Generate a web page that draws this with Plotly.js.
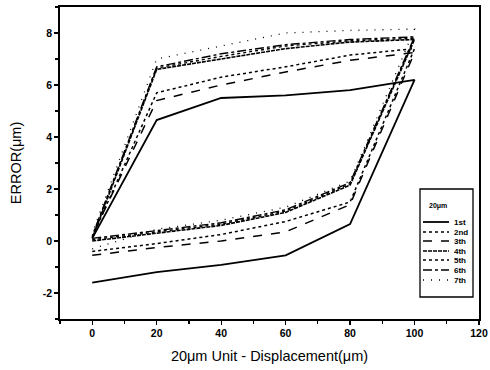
<!DOCTYPE html>
<html>
<head>
<meta charset="utf-8">
<script src="https://cdn.plot.ly/plotly-3.0.1.min.js"></script>
<style>html,body{margin:0;padding:0;background:#fff;}#chart{width:490px;height:370px;}</style>
</head>
<body>
<div id="chart"></div>
<script>
// Displacement points (μm)
const displacement = [0, 20, 40, 60, 80, 100];
const cycleNames = ["1st", "2nd", "3th", "4th", "5th", "6th", "7th"];
// Lower branch (loading, 0 -> 100) error values (μm)
const lower1 = [-1.6, -1.2, -0.92, -0.55, 0.65, 6.2];
const lower2 = [-0.4, -0.1, 0.25, 0.75, 1.5, 7.4];
const lower3 = [-0.55, -0.25, 0.0, 0.35, 1.4, 7.25];
const lower4 = [0.0, 0.3, 0.6, 1.1, 2.15, 7.75];
const lower5 = [0.05, 0.35, 0.65, 1.15, 2.2, 7.8];
const lower6 = [0.1, 0.4, 0.7, 1.2, 2.25, 7.85];
const lower7 = [-0.3, 0.45, 0.8, 1.3, 2.3, 8.15];
// Upper branch (unloading, read at the same displacement points)
const upper1 = [0.1, 4.65, 5.5, 5.6, 5.8, 6.2];
const upper2 = [0.15, 5.7, 6.3, 6.7, 7.15, 7.4];
const upper3 = [0.2, 5.4, 6.0, 6.5, 6.95, 7.25];
const upper4 = [0.1, 6.6, 7.0, 7.4, 7.65, 7.75];
const upper5 = [0.15, 6.65, 7.1, 7.5, 7.7, 7.8];
const upper6 = [0.2, 6.7, 7.2, 7.55, 7.75, 7.85];
const upper7 = [0.3, 7.0, 7.5, 8.0, 8.1, 8.15];
const xTickVals = [0, 20, 40, 60, 80, 100, 120];
const yTickVals = [-2, 0, 2, 4, 6, 8];

const lowers = [lower1, lower2, lower3, lower4, lower5, lower6, lower7];
const uppers = [upper1, upper2, upper3, upper4, upper5, upper6, upper7];
const dashes = ["solid", "dot", "dash", "4px,1px", "dot", "dashdot", "1px,7px"];
const widths = [1.8, 1.5, 1.5, 1.6, 1.4, 1.4, 1.3];

const traces = cycleNames.map((name, i) => {
  const xr = displacement.slice().reverse();
  const ur = uppers[i].slice().reverse();
  return {
    type: "scatter", mode: "lines", name: name,
    x: displacement.concat(xr.slice(1)),
    y: lowers[i].concat(ur.slice(1)),
    line: {color: "#000", width: widths[i], dash: dashes[i]},
    showlegend: false
  };
});

// Manual compact legend (pixel -> paper helpers)
const PL = 60, PW = 419, PT = 7, PH = 312;
const px = v => (v - PL) / PW;
const py = v => (PT + PH - v) / PH;
const FONT = "Liberation Sans, Arial, sans-serif";
const shapes = [{type: "rect", xref: "paper", yref: "paper", x0: px(420), x1: px(473), y0: py(297), y1: py(189),
  line: {color: "#000", width: 1.3}, fillcolor: "#fff"}];
const annotations = [{xref: "paper", yref: "paper", x: px(438), y: py(206), text: "20μm", showarrow: false,
  font: {family: FONT, size: 7, color: "#000000", weight: "bold"}, xanchor: "center", yanchor: "middle"}];
const rowY = [222, 232, 241, 251, 260, 270, 280];
cycleNames.forEach((name, i) => {
  shapes.push({type: "line", xref: "paper", yref: "paper", x0: px(423), x1: px(449), y0: py(rowY[i]), y1: py(rowY[i]),
    line: {color: "#000", width: widths[i], dash: dashes[i]}});
  annotations.push({xref: "paper", yref: "paper", x: px(452), y: py(rowY[i]), text: name, showarrow: false,
    font: {family: FONT, size: 8, color: "#000000", weight: "bold"}, xanchor: "left", yanchor: "middle"});
});

const layout = {
  width: 490, height: 370,
  margin: {l: PL, r: 490 - PL - PW, t: PT, b: 370 - PT - PH},
  paper_bgcolor: "#fff", plot_bgcolor: "#fff",
  showlegend: false,
  font: {family: FONT, color: "#000000"},
  xaxis: {
    range: [-10, 120], tickvals: xTickVals, ticktext: xTickVals.map(String),
    ticks: "outside", ticklen: 4, tickwidth: 1.2, tickcolor: "#000",
    minor: {dtick: 10, tick0: 0, ticks: "outside", ticklen: 3, tickcolor: "#000"},
    showline: true, linecolor: "#000", linewidth: 1.7, mirror: true,
    showgrid: false, zeroline: false,
    tickfont: {size: 10.5, weight: "bold", color: "#000000"},
    title: {text: "20μm Unit - Displacement(μm)", font: {size: 14.5, color: "#000000"}, standoff: 12}
  },
  yaxis: {
    range: [-3, 9], tickvals: yTickVals, ticktext: yTickVals.map(String),
    ticks: "outside", ticklen: 4, tickwidth: 1.2, tickcolor: "#000",
    minor: {dtick: 1, tick0: 0, ticks: "outside", ticklen: 3, tickcolor: "#000"},
    showline: true, linecolor: "#000", linewidth: 1.7, mirror: true,
    showgrid: false, zeroline: false,
    tickfont: {size: 10.5, weight: "bold", color: "#000000"},
    title: {text: "ERROR(μm)", font: {size: 14.5, color: "#000000"}, standoff: 18}
  },
  shapes: shapes,
  annotations: annotations
};

Plotly.newPlot("chart", traces, layout, {displayModeBar: false, staticPlot: true});
</script>
</body>
</html>
